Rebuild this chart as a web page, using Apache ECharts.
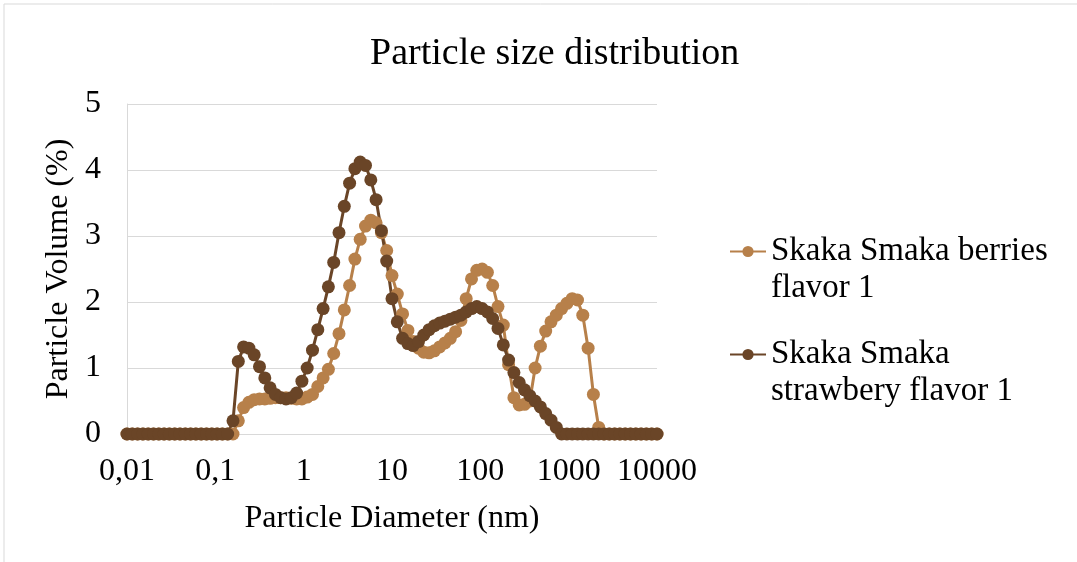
<!DOCTYPE html>
<html>
<head>
<meta charset="utf-8">
<script src="https://cdn.jsdelivr.net/npm/echarts@6/dist/echarts.min.js"></script>
<style>
html,body{margin:0;padding:0;background:#fff;}
#chart{width:1077px;height:562px;}
</style>
</head>
<body>
<div id="chart"></div>
<script>
// Particle diameters (nm), log-spaced sample classes
var diameters = [
  0.01, 0.01148, 0.01318, 0.01514, 0.01738, 0.01995, 0.02291, 0.0263, 0.0302, 0.03467,
  0.03981, 0.04571, 0.05248, 0.06026, 0.06918, 0.07943, 0.0912, 0.1047, 0.1202, 0.138,
  0.1585, 0.182, 0.2089, 0.2399, 0.2754, 0.3162, 0.3631, 0.4169, 0.4786, 0.5495,
  0.631, 0.7244, 0.8318, 0.955, 1.096, 1.259, 1.445, 1.66, 1.905, 2.188,
  2.512, 2.884, 3.311, 3.802, 4.365, 5.012, 5.754, 6.607, 7.586, 8.71,
  10, 11.48, 13.18, 15.14, 17.38, 19.95, 22.91, 26.3, 30.2, 34.67,
  39.81, 45.71, 52.48, 60.26, 69.18, 79.43, 91.2, 104.7, 120.2, 138,
  158.5, 182, 208.9, 239.9, 275.4, 316.2, 363.1, 416.9, 478.6, 549.5,
  631, 724.4, 831.8, 955, 1096, 1259, 1445, 1660, 1905, 2188,
  2512, 2884, 3311, 3802, 4365, 5012, 5754, 6607, 7586, 8710,
  10000
];

// Particle volume (%) - Skaka Smaka berries flavor 1
var berriesValues = [
  0, 0, 0, 0, 0, 0, 0, 0, 0, 0,
  0, 0, 0, 0, 0, 0, 0, 0, 0, 0,
  0, 0.2, 0.4, 0.48, 0.52, 0.53, 0.53, 0.54, 0.55, 0.55,
  0.55, 0.54, 0.53, 0.53, 0.56, 0.6, 0.72, 0.85, 0.98, 1.22,
  1.52, 1.88, 2.25, 2.65, 2.95, 3.15, 3.24, 3.2, 3.05, 2.78,
  2.4, 2.12, 1.82, 1.57, 1.4, 1.3, 1.24, 1.23, 1.26, 1.32,
  1.38, 1.45, 1.55, 1.72, 2.05, 2.35, 2.48, 2.5, 2.45, 2.25,
  1.93, 1.65, 1.05, 0.55, 0.44, 0.45, 0.5, 1.0, 1.33, 1.56,
  1.7, 1.8, 1.9, 1.98, 2.05, 2.03, 1.8, 1.3, 0.6, 0.1,
  0, 0, 0, 0, 0, 0, 0, 0, 0, 0,
  0
];

// Particle volume (%) - Skaka Smaka strawbery flavor 1
var strawberyValues = [
  0, 0, 0, 0, 0, 0, 0, 0, 0, 0,
  0, 0, 0, 0, 0, 0, 0, 0, 0, 0,
  0.2, 1.1, 1.32, 1.3, 1.2, 1.02, 0.85, 0.7, 0.6, 0.55,
  0.53, 0.55, 0.62, 0.8, 1.0, 1.27, 1.58, 1.9, 2.23, 2.6,
  3.05, 3.45, 3.8, 4.02, 4.12, 4.07, 3.85, 3.55, 3.08, 2.62,
  2.05, 1.7, 1.45, 1.37, 1.34, 1.4, 1.5, 1.58, 1.64, 1.68,
  1.71, 1.74, 1.77, 1.8, 1.85, 1.9, 1.93, 1.9, 1.85, 1.75,
  1.6, 1.35, 1.12, 0.93, 0.78, 0.67, 0.58, 0.5, 0.41, 0.31,
  0.21, 0.1, 0, 0, 0, 0, 0, 0, 0, 0,
  0, 0, 0, 0, 0, 0, 0, 0, 0, 0,
  0
];

var seriesNames = ['Skaka Smaka berries flavor 1', 'Skaka Smaka strawbery flavor 1'];
var legendLabels = ['Skaka Smaka berries\nflavor 1', 'Skaka Smaka\nstrawbery flavor 1'];
var xTickLabels = ['0,01', '0,1', '1', '10', '100', '1000', '10000'];
var yTickLabels = ['0', '1', '2', '3', '4', '5'];
var colors = ['#B7804A', '#6A4527'];

function pairs(xs, ys) {
  var out = [];
  for (var i = 0; i < xs.length; i++) out.push([xs[i], ys[i]]);
  return out;
}

var FONT = '"Liberation Serif", "Times New Roman", serif';
var chart = echarts.init(document.getElementById('chart'), null, {renderer: 'canvas'});

function legendFor(idx, top) {
  return {
    show: true,
    orient: 'vertical',
    left: 724,
    top: top,
    itemWidth: 36,
    itemHeight: 14,
    itemGap: 0,
    data: [seriesNames[idx]],
    // leading blank line keeps the icon level with the first text line
    formatter: function () { return '\n' + legendLabels[idx]; },
    textStyle: {
      fontFamily: FONT,
      fontSize: 33,
      color: '#000',
      lineHeight: 37
    }
  };
}

chart.setOption({
  animation: false,
  backgroundColor: '#fff',
  color: colors,
  title: {
    text: 'Particle size distribution',
    left: 365,
    top: 30,
    textStyle: {fontFamily: FONT, fontSize: 38, fontWeight: 'normal', color: '#000'}
  },
  graphic: [
    {type: 'line', shape: {x1: 4, y1: 4, x2: 1077, y2: 4}, style: {stroke: '#d9d9d9', lineWidth: 1}},
    {type: 'line', shape: {x1: 4, y1: 4, x2: 4, y2: 562}, style: {stroke: '#d9d9d9', lineWidth: 1}}
  ],
  legend: [legendFor(0, 191), legendFor(1, 294)],
  grid: {left: 127, right: 420, top: 104, bottom: 128, containLabel: false},
  xAxis: {
    type: 'log',
    logBase: 10,
    min: 0.01,
    max: 10000,
    name: 'Particle Diameter (nm)',
    nameLocation: 'middle',
    nameGap: 69,
    nameTextStyle: {fontFamily: FONT, fontSize: 32, color: '#000'},
    axisLine: {show: true, lineStyle: {color: '#d9d9d9', width: 1}},
    axisTick: {show: false},
    splitLine: {show: false},
    minorTick: {show: false},
    axisLabel: {
      fontFamily: FONT, fontSize: 32, color: '#000', margin: 22,
      formatter: function (v) { return xTickLabels[Math.round(Math.log10(v)) + 2]; }
    }
  },
  yAxis: {
    type: 'value',
    min: 0,
    max: 5,
    interval: 1,
    name: 'Particle Volume (%)',
    nameLocation: 'middle',
    nameGap: 52,
    nameRotate: 90,
    nameTextStyle: {fontFamily: FONT, fontSize: 32, color: '#000'},
    axisLine: {show: true, lineStyle: {color: '#d9d9d9', width: 1}},
    axisTick: {show: false},
    splitLine: {show: true, lineStyle: {color: '#d9d9d9', width: 1}},
    axisLabel: {
      fontFamily: FONT, fontSize: 32, color: '#000', margin: 26,
      formatter: function (v) { return yTickLabels[Math.round(v)]; }
    }
  },
  series: [
    {
      name: seriesNames[0],
      type: 'line',
      data: pairs(diameters, berriesValues),
      symbol: 'circle',
      symbolSize: 13,
      showAllSymbol: true,
      lineStyle: {width: 3, color: colors[0]},
      itemStyle: {color: colors[0]}
    },
    {
      name: seriesNames[1],
      type: 'line',
      data: pairs(diameters, strawberyValues),
      symbol: 'circle',
      symbolSize: 13,
      showAllSymbol: true,
      lineStyle: {width: 3, color: colors[1]},
      itemStyle: {color: colors[1]}
    }
  ]
});
</script>
</body>
</html>
